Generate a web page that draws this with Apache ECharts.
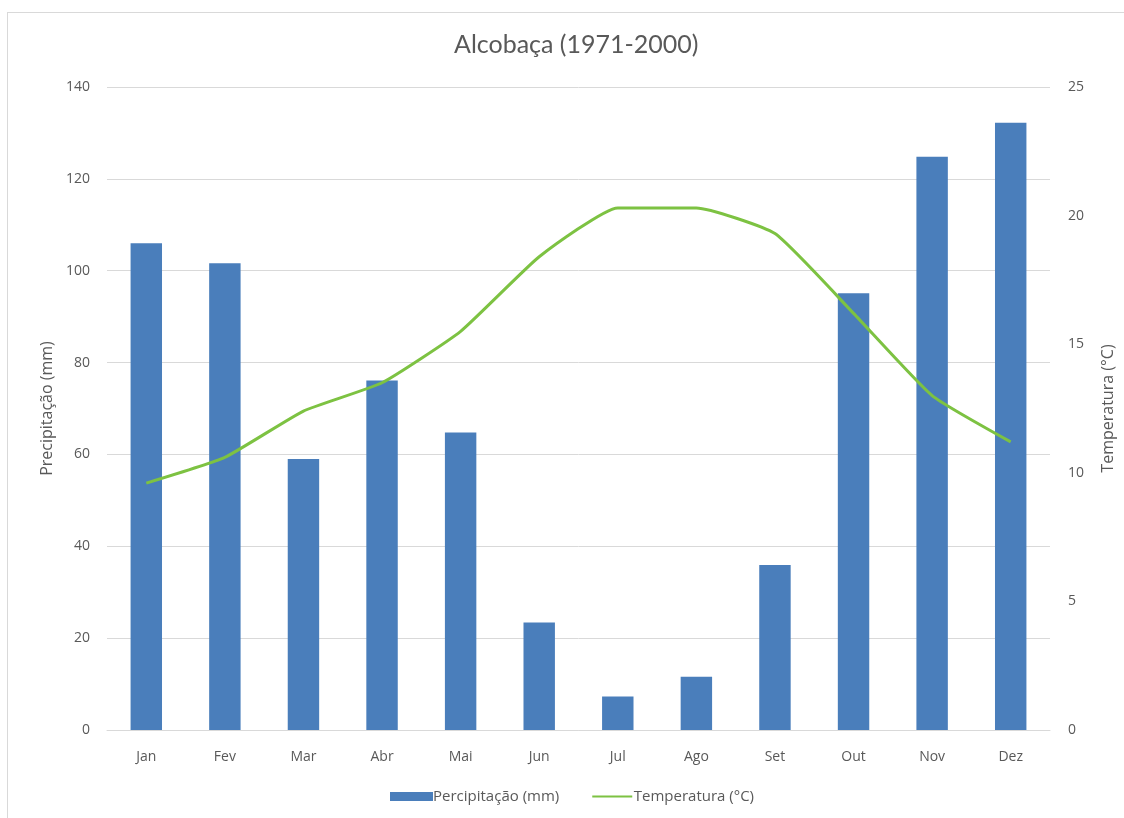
<!DOCTYPE html>
<html>
<head>
<meta charset="utf-8">
<script src="https://cdn.jsdelivr.net/npm/echarts@6/dist/echarts.min.js"></script>
<style>
  html, body { margin: 0; padding: 0; background: #ffffff; }
  #frame { position: absolute; left: 7px; top: 12px; width: 1130px; height: 820px; border: 1px solid #d9d9d9; box-sizing: border-box; }
  #chart { position: absolute; left: 0; top: 0; width: 1124px; height: 818px; }
</style>
</head>
<body>
<div id="frame"></div>
<div id="chart"></div>
<script>
// Monthly climate normals for Alcobaça, 1971-2000
const months = ['Jan', 'Fev', 'Mar', 'Abr', 'Mai', 'Jun', 'Jul', 'Ago', 'Set', 'Out', 'Nov', 'Dez'];
const precipitation = [106.0, 101.6, 59.0, 76.1, 64.8, 23.4, 7.3, 11.6, 35.9, 95.1, 124.8, 132.2];
const temperature = [9.6, 10.6, 12.4, 13.5, 15.5, 18.4, 20.3, 20.3, 19.3, 16.2, 13.0, 11.2];
const precipTicks = { min: 0, max: 140, interval: 20 };
const tempTicks = { min: 0, max: 25, interval: 5 };

const FONT = '"Open Sans", Lato, sans-serif';
const TITLE_FONT = 'Lato, "Open Sans", sans-serif';
const TEXT = '#595959';
const BAR = '#4A7EBB';
const LINE = '#7DC242';

// thin horizontal stroke for the line legend key (corner specks keep the box size)
const lineKey = 'path://M0,0H0.01V0.01H0Z M0,3.5H40V5.5H0Z M39.99,8.99H40V9H39.99Z';

const chart = echarts.init(document.getElementById('chart'), null, { renderer: 'canvas' });
chart.setOption({
  backgroundColor: 'transparent',
  animation: false,
  title: {
    text: 'Alcobaça (1971-2000)',
    left: 449,
    top: 27,
    textStyle: { fontFamily: TITLE_FONT, fontSize: 25, fontWeight: 'normal', color: TEXT }
  },
  legend: {
    bottom: 9,
    left: 385,
    itemGap: 33,
    itemWidth: 43,
    itemHeight: 9,
    textStyle: { fontFamily: FONT, fontSize: 15, color: TEXT, padding: [0, 0, 0, -5] },
    data: [
      { name: 'Percipitação (mm)', icon: 'rect' },
      { name: 'Temperatura (°C)', icon: lineKey }
    ]
  },
  grid: { left: 107, right: 74, top: 87, bottom: 88 },
  xAxis: {
    type: 'category',
    data: months,
    axisLine: { show: true, lineStyle: { color: '#d9d9d9', width: 1 } },
    axisTick: { show: false },
    axisLabel: { fontFamily: FONT, fontSize: 14, color: TEXT, margin: 20 }
  },
  yAxis: [
    {
      type: 'value',
      min: precipTicks.min, max: precipTicks.max, interval: precipTicks.interval,
      name: 'Precipitação (mm)',
      nameLocation: 'middle',
      nameGap: 52,
      nameRotate: 90,
      nameTextStyle: { fontFamily: FONT, fontSize: 16, color: TEXT },
      axisLine: { show: false },
      axisTick: { show: false },
      axisLabel: { fontFamily: FONT, fontSize: 14, color: TEXT, margin: 17 },
      splitLine: { show: true, lineStyle: { color: '#d9d9d9', width: 1 } }
    },
    {
      type: 'value',
      min: tempTicks.min, max: tempTicks.max, interval: tempTicks.interval,
      name: 'Temperatura (°C)',
      nameLocation: 'middle',
      nameGap: 50,
      nameRotate: 90,
      nameTextStyle: { fontFamily: FONT, fontSize: 16, color: TEXT },
      axisLine: { show: false },
      axisTick: { show: false },
      axisLabel: { fontFamily: FONT, fontSize: 14, color: TEXT, margin: 18 },
      splitLine: { show: false }
    }
  ],
  series: [
    {
      name: 'Percipitação (mm)',
      type: 'bar',
      yAxisIndex: 0,
      data: precipitation,
      barWidth: '40%',
      itemStyle: { color: BAR }
    },
    {
      name: 'Temperatura (°C)',
      type: 'line',
      yAxisIndex: 1,
      data: temperature,
      symbol: 'none',
      smooth: 0.15,
      lineStyle: { color: LINE, width: 3 },
      itemStyle: { color: LINE }
    }
  ]
});
</script>
</body>
</html>
